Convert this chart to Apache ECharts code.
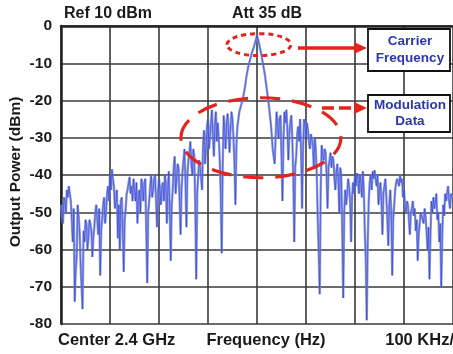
<!DOCTYPE html>
<html>
<head>
<meta charset="utf-8">
<script src="https://cdn.jsdelivr.net/npm/echarts@6/dist/echarts.min.js"></script>
<style>
  html, body { margin: 0; padding: 0; background: #fff; }
  #chart { width: 453px; height: 354px; }
</style>
</head>
<body>
<div id="chart"></div>
<script>
// Spectrum trace: offset from the 2.4 GHz centre in kHz (2 kHz steps), level in dBm
const freqStartKHz = -400;
const freqStepKHz = 2;
const levelDbm = [
  -48, -51, -53, -46, -47, -50, -44, -46, -43, -45, -47, -52, -58, -49, -74, -66, -62, -48, -51, -55,
  -64, -70, -76, -55, -58, -52, -53, -60, -57, -52, -53, -55, -62, -57, -54, -50, -48, -52, -56, -49,
  -67, -55, -52, -48, -46, -53, -50, -45, -43, -47, -40, -44, -38.5, -41, -43, -49, -47, -44, -57, -48,
  -60, -47, -46, -55, -66, -52, -49, -45, -44, -42, -40.5, -45, -43, -47, -41, -44, -47, -42, -53, -46,
  -44, -50, -41, -43, -47, -42, -41, -55, -69, -50, -47, -43, -40, -46, -44, -41, -40, -47, -54, -45,
  -41, -44, -48, -43, -42, -47, -40, -42, -53, -44, -39, -50, -63, -48, -44, -38, -35, -45, -41, -37,
  -38, -47, -56, -44, -39, -36, -33, -42, -54, -40, -36, -34, -31, -37, -40, -33, -35, -48, -68, -45,
  -40, -36, -38, -41, -44, -32, -28, -37, -33, -27, -25, -33, -30, -26, -22.5, -29, -35, -27, -23, -31,
  -26, -30, -36, -45, -61, -38, -24, -28, -33, -26, -23.5, -29, -34, -27, -23, -25, -30, -37, -48, -32,
  -27, -25, -23, -22, -21.5, -20, -19, -17.5, -16, -14, -12.5, -11, -10, -9, -8, -7, -6.5, -5.5, -4.5, -3.5,
  -2.5, -3.5, -4.5, -6, -7, -8.5, -10, -11.5, -13, -15, -17, -19, -21, -23.5, -26, -29, -33, -35, -37, -30,
  -23, -27, -30, -25, -24, -35, -47, -31, -23, -26, -22.5, -28, -36, -29, -26, -24, -30, -40, -58, -38,
  -35, -29, -27, -31, -25, -34, -49, -33, -25, -27, -30, -26, -28, -31, -33, -29, -28.5, -32, -38, -30,
  -33, -40, -52, -61, -72, -44, -32, -35, -36, -33, -34, -40, -49, -38, -36, -34, -38, -35, -36, -41,
  -44, -39, -37, -42, -50, -38, -40, -55, -73, -50, -44, -48, -45, -41, -43, -47, -58, -46, -42, -45,
  -40, -43, -39.5, -41, -45, -40, -42, -46, -39, -44, -55, -63, -79, -58, -47, -42, -40, -44, -39, -41,
  -38.7, -41, -43, -40, -48, -44, -42, -47, -56, -45, -43, -41, -46, -52, -59, -48, -44, -50, -67, -52,
  -48, -44, -42, -41, -40.5, -43, -40, -42, -41, -46, -44, -48, -50, -47, -48, -52, -56, -50, -49, -47,
  -51, -49, -55, -52, -63, -56, -53, -50, -50, -52, -53, -49, -51, -55, -60, -54, -68, -56, -47, -50,
  -46, -49, -47.5, -45, -52, -50, -58, -53, -70, -57, -48, -51, -45, -47, -44.8, -43, -47, -49, -45, -46
];
const freqKHz = levelDbm.map((_, i) => freqStartKHz + i * freqStepKHz);

// Axis settings
const yTicks = [0, -10, -20, -30, -40, -50, -60, -70, -80];
const spanKHz = 400;       // half span shown, 100 kHz per division
const divKHz = 100;

// Header / footer texts
const refText = 'Ref 10 dBm';
const attText = 'Att 35 dB';
const centerText = 'Center 2.4 GHz';
const xTitle = 'Frequency (Hz)';
const spanText = '100 KHz/';
const yTitle = 'Output Power (dBm)';
const carrierLabel = ['Carrier', 'Frequency'];
const modulationLabel = ['Modulation', 'Data'];

// Annotated regions (data coordinates: kHz, dBm)
const carrierSpot = [4, -5];
const modulationSpot = [8, -30];

const chart = echarts.init(document.getElementById('chart'), null, { renderer: 'canvas' });
const FONT = 'Liberation Sans, Arial, sans-serif';
const traceData = freqKHz.map((f, i) => [f, levelDbm[i]]);

chart.setOption({
  animation: false,
  backgroundColor: '#ffffff',
  grid: { left: 61, top: 26, width: 394, bottom: 30, containLabel: false },
  xAxis: {
    type: 'value',
    min: -spanKHz, max: spanKHz, interval: divKHz,
    axisLine: { show: true, lineStyle: { color: '#222', width: 2.5 } },
    axisTick: { show: false },
    axisLabel: { show: false },
    splitLine: { show: true, lineStyle: { color: '#3a3a3a', width: 1.6 } }
  },
  yAxis: {
    type: 'value',
    min: -80, max: 0, interval: 10,
    axisLine: { show: true, onZero: false, lineStyle: { color: '#222', width: 2.5 } },
    axisTick: { show: false },
    axisLabel: {
      margin: 9,
      fontSize: 15.5,
      fontFamily: FONT,
      fontWeight: 'bold',
      color: '#1a1a1a',
      formatter: v => (yTicks.indexOf(v) >= 0 ? String(v) : '')
    },
    splitLine: { show: true, lineStyle: { color: '#3a3a3a', width: 1.6 } }
  },
  series: [
    { // soft halo of the trace
      type: 'line', data: traceData, showSymbol: false, clip: true, silent: true,
      lineStyle: { color: 'rgba(125,140,226,0.85)', width: 2.4 }, z: 3
    },
    { // darker core of the trace
      type: 'line', data: traceData, showSymbol: false, clip: true, silent: true,
      lineStyle: { color: 'rgba(30,45,205,0.5)', width: 1 }, z: 4
    }
  ]
});

// Annotation overlay, placed from the axes' own scales
const c = chart.convertToPixel({ gridIndex: 0 }, carrierSpot);
const m = chart.convertToPixel({ gridIndex: 0 }, modulationSpot);
const red = '#e5231d';
const boxX = 368, boxW = 82;
const blue = '#2a36b8';

function arrow(x1, x2, y, dashed) {
  return [
    { type: 'line', shape: { x1: x1, y1: y, x2: x2 - 10, y2: y },
      style: { stroke: red, lineWidth: 3.5, lineDash: dashed ? [12, 5] : null }, z: 20 },
    { type: 'polygon', shape: { points: [[x2 - 13, y - 6], [x2, y], [x2 - 13, y + 6]] },
      style: { fill: red }, z: 20 }
  ];
}

function box(y, h, lines, gap) {
  const els = [{
    type: 'rect', shape: { x: boxX, y: y, width: boxW, height: h },
    style: { fill: '#fff', stroke: '#111', lineWidth: 1.8 }, z: 20
  }];
  lines.forEach((t, k) => {
    els.push({
      type: 'text', x: boxX + boxW / 2 + 1, y: y + h / 2 + (k - (lines.length - 1) / 2) * gap,
      style: { text: t, fill: blue, font: 'bold 13.5px ' + FONT,
               align: 'center', verticalAlign: 'middle' }, z: 21
    });
  });
  return els;
}

function label(text, x, y, align, size) {
  return { type: 'text', x: x, y: y,
    style: { text: text, font: 'bold ' + size + 'px ' + FONT, fill: '#1a1a1a', align: align, verticalAlign: 'middle' } };
}

chart.setOption({
  graphic: [
    label(refText, 64, 14, 'left', 16),
    label(attText, 267, 14, 'center', 16),
    label(centerText, 58, 340, 'left', 16.5),
    label(xTitle, 266, 340, 'center', 16.5),
    label(spanText, 454, 340, 'right', 16.5),
    Object.assign(label(yTitle, 16, 172, 'center', 15.5), { rotation: Math.PI / 2 }),
    { type: 'ellipse', shape: { cx: c[0], cy: c[1], rx: 32, ry: 11 },
      style: { fill: 'none', stroke: red, lineWidth: 3, lineDash: [5, 4] }, z: 20 },
    { type: 'ellipse', shape: { cx: m[0], cy: m[1], rx: 80, ry: 40 },
      style: { fill: 'none', stroke: red, lineWidth: 3.2, lineDash: [20, 12] }, z: 20 },
    ...arrow(298, 367, 48, false),
    ...arrow(322, 367, 108, true),
    ...box(29, 42, carrierLabel, 17),
    ...box(95, 37, modulationLabel, 16)
  ]
});
</script>
</body>
</html>
